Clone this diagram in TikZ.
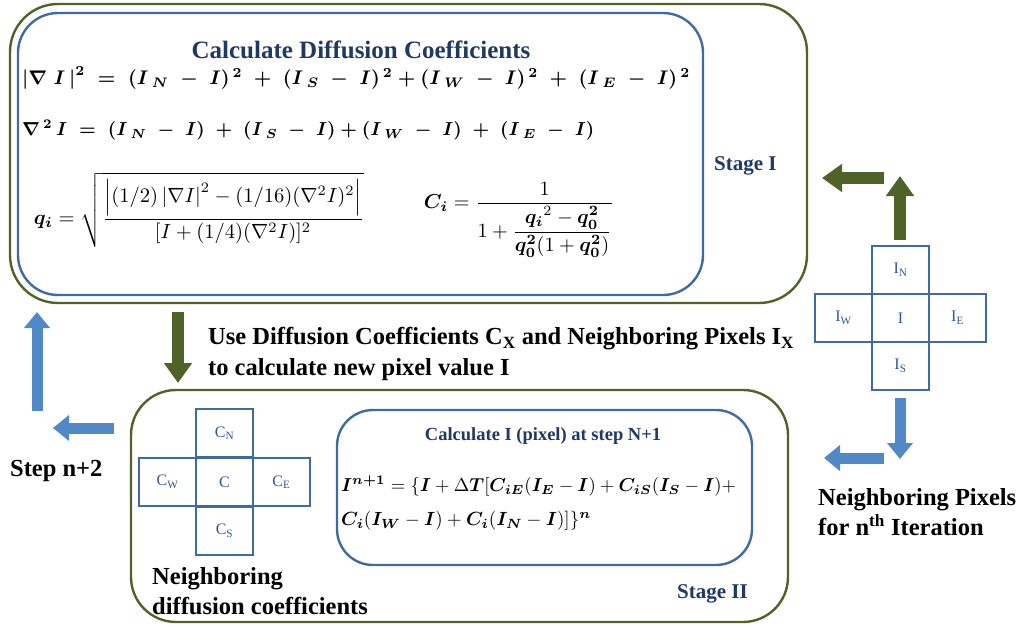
\documentclass[tikz,border=0pt]{standalone}
\usepackage{fontspec}
\setmainfont{Liberation Serif}
\usepackage{amsmath}
\usetikzlibrary{arrows.meta}
\definecolor{olivebox}{HTML}{4F6228}
\definecolor{bluebox}{HTML}{3F6B9E}
\definecolor{navytext}{HTML}{1F3864}
\definecolor{cellblue}{HTML}{2F5597}
\definecolor{arrowblue}{HTML}{5088C8}
\tikzset{
  greenframe/.style={draw=olivebox, line width=2.4pt, rounded corners=48pt},
  blueframe/.style={draw=bluebox, line width=2.4pt, rounded corners=40pt},
  cell/.style={draw=bluebox, line width=2pt, minimum width=57pt, minimum height=48pt, inner sep=0pt, text=cellblue, font=\fontsize{16}{18}\selectfont},
  largetext/.style={font=\fontsize{24.5}{28}\selectfont\bfseries, align=left, inner sep=0pt},
  navylabel/.style={text=navytext, font=\fontsize{21}{24}\selectfont\bfseries, inner sep=0pt},
  greenarrow/.style={draw=olivebox, line width=12pt, -{Triangle[length=20pt, width=27pt]}},
  bluearrow/.style={draw=arrowblue, line width=11pt, -{Triangle[length=16pt, width=25pt]}},
  eq/.style={inner sep=0pt}
}
\begin{document}
\begin{tikzpicture}[x=1pt,y=-1pt]
\useasboundingbox (0,0) rectangle (1023,625);
% Stage I frames
\draw[greenframe] (10,4) rectangle (807,303);
\draw[blueframe] (18,13) rectangle (703,295);
\node[text=navytext, font=\fontsize{25}{29}\selectfont\bfseries, inner sep=0pt] (t1) at (361,50) {Calculate Diffusion Coefficients};
\node[eq, anchor=west] (e1) at (22,78) {\resizebox{668pt}{!}{\boldmath$\left|\nabla\; I\,\right|^{2} \;=\; (I_{\;N} \;-\; I)^{\,2} \;+\; (I_{\;S} \;-\; I)^{\,2} + (I_{\;W} \;-\; I)^{\,2} \;+\; (I_{\;E} \;-\; I)^{\,2}$}};
\node[eq, anchor=west] (e2) at (22,130) {\resizebox{572pt}{!}{\boldmath$\nabla^{\,2}\, I \;=\; (I_{\;N} \;-\; I) \;+\; (I_{\;S} \;-\; I) + (I_{\;W} \;-\; I) \;+\; (I_{\;E} \;-\; I)$}};
\node[eq] (qi) at (199,210) {\resizebox{330pt}{!}{$\boldsymbol{q_i} = \sqrt{\dfrac{\left|(1/2)\left|\nabla I\right|^2 - (1/16)(\nabla^2 I)^2\right|}{[I + (1/4)(\nabla^2 I)]^2}}$}};
\node[eq] (ci) at (519,220) {\resizebox{190pt}{!}{$\boldsymbol{C_i} = \dfrac{1}{1+\dfrac{\boldsymbol{q_i}^{2} - \boldsymbol{q_0^2}}{\boldsymbol{q_0^2}(1+\boldsymbol{q_0^2})}}$}};
\node[navylabel, anchor=west] (s1) at (714,166) {Stage I};
% Pixel cross
\node[cell] (IN) at (900.5,270) {I\textsubscript{N}};
\node[cell] (I) at (900.5,318) {I};
\node[cell] (IW) at (843.5,318) {I\textsubscript{W}};
\node[cell] (IE) at (957.5,318) {I\textsubscript{E}};
\node[cell] (IS) at (900.5,366) {I\textsubscript{S}};
% green arrows right
\coordinate (ga1s) at (900,240);
\coordinate (ga1e) at (900,176);
\draw[greenarrow] (ga1s) -- (ga1e);
\coordinate (ga2s) at (884,178);
\coordinate (ga2e) at (822,178);
\draw[greenarrow] (ga2s) -- (ga2e);
% blue arrows right
\coordinate (ba1s) at (900,398);
\coordinate (ba1e) at (900,459);
\draw[bluearrow] (ba1s) -- (ba1e);
\coordinate (ba2s) at (884,458);
\coordinate (ba2e) at (824,458);
\draw[bluearrow] (ba2s) -- (ba2e);
\node[largetext, anchor=north west] (np) at (818,488) {Neighboring Pixels\\[2pt]for n\textsuperscript{th} Iteration};
% middle green arrow and text
\coordinate (gds) at (178,312);
\coordinate (gde) at (178,383);
\draw[greenarrow] (gds) -- (gde);
\node[largetext, anchor=north west] (use) at (208,327) {Use Diffusion Coefficients C\textsubscript{X} and Neighboring Pixels I\textsubscript{X}\\[3pt]to calculate new pixel value I};
% left blue arrows
\coordinate (bl1s) at (37,411);
\coordinate (bl1e) at (37,312);
\draw[bluearrow] (bl1s) -- (bl1e);
\coordinate (bl2s) at (114,428);
\coordinate (bl2e) at (53,428);
\draw[bluearrow] (bl2s) -- (bl2e);
\node[largetext, anchor=west] (step) at (10,471) {Step n+2};
% Stage II
\draw[greenframe, rounded corners=45pt] (131,390) rectangle (788,622);
\node[cell] (CN) at (224.5,433) {C\textsubscript{N}};
\node[cell] (C) at (224.5,482) {C};
\node[cell] (CW) at (167.5,482) {C\textsubscript{W}};
\node[cell] (CE) at (281.5,482) {C\textsubscript{E}};
\node[cell] (CS) at (224.5,531) {C\textsubscript{S}};
\node[largetext, anchor=north west] (ndc) at (152,567) {Neighboring\\[2pt]diffusion coefficients};
\draw[blueframe, rounded corners=36pt] (337,410) rectangle (752,565);
\node[text=navytext, font=\fontsize{18.5}{22}\selectfont\bfseries, inner sep=0pt] (t2) at (543,436) {Calculate I (pixel) at step N+1};
\node[eq, anchor=west] (f1) at (341,486) {\resizebox{395pt}{!}{$\boldsymbol{I^{n+1}} = \{\boldsymbol{I} + \Delta \boldsymbol{T}[\boldsymbol{C_{iE}}(\boldsymbol{I_E} - \boldsymbol{I}) + \boldsymbol{C_{iS}}(\boldsymbol{I_S} - \boldsymbol{I}) +$}};
\node[eq, anchor=west] (f2) at (341,521) {\resizebox{250pt}{!}{$\boldsymbol{C_i}(\boldsymbol{I_W} - \boldsymbol{I}) + \boldsymbol{C_i}(\boldsymbol{I_N} - \boldsymbol{I})]\}^{\boldsymbol{n}}$}};
\node[navylabel, anchor=west] (s2) at (677,594) {Stage II};
\end{tikzpicture}
\end{document}
